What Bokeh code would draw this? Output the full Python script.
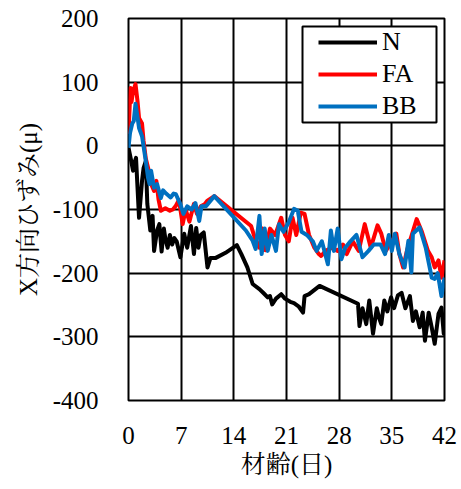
from bokeh.plotting import figure
from bokeh.models import Range1d, FixedTicker, Legend, LegendItem, BoxAnnotation
from bokeh.embed import file_html
from bokeh.resources import INLINE

# ---- data ----
x_ticks = [0, 7, 14, 21, 28, 35, 42]
y_ticks = [-400, -300, -200, -100, 0, 100, 200]
y_tick_labels = ["-400", "-300", "-200", "-100", "0", "100", "200"]

n_day = [0.0, 0.3, 0.6, 0.8, 1.0, 1.4, 1.8, 2.0, 2.3, 2.5, 2.9, 3.2, 3.4, 3.8, 4.1, 4.4, 4.7, 4.9,
         5.2, 5.5, 5.8, 6.1, 6.4, 6.9, 7.4, 7.8, 8.3, 8.7, 9.0, 9.3, 9.6, 10.0, 10.5, 10.9, 11.6,
         12.9, 14.4, 15.0, 15.8, 16.5, 17.4, 18.0, 18.5, 18.8, 19.1, 19.6, 20.3, 20.8, 21.5, 22.0,
         22.6, 23.2, 23.4, 24.0, 25.4, 30.5, 30.7, 31.1, 31.6, 32.0, 32.5, 33.0, 33.3, 33.6, 34.0,
         34.4, 34.9, 35.3, 35.8, 36.3, 36.8, 37.4, 37.8, 38.2, 38.7, 39.1, 39.4, 39.9, 40.3, 40.7,
         41.2, 41.6, 41.9, 42.0]
n_val = [-3, -20, -39, -26, -19, -113, -55, -35, -24, -91, -133, -110, -165, -133, -123, -166, -130, -146,
         -160, -140, -155, -145, -150, -175, -138, -160, -126, -170, -129, -160, -140, -136, -191, -176, -176,
         -168, -156, -170, -191, -217, -225, -232, -238, -236, -249, -240, -233, -240, -245, -247,
         -252, -262, -236, -233, -220, -248, -283, -255, -280, -243, -295, -255, -270, -280, -243,
         -260, -238, -255, -235, -231, -255, -236, -275, -260, -285, -262, -306, -262, -285, -311,
         -264, -254, -295, -280]

fa_day = [0.0, 0.15, 0.27, 0.4, 0.6, 0.93, 1.2, 1.4, 1.8, 2.0, 2.3, 2.7, 3.0, 3.4, 3.7, 4.0, 4.3, 4.9,
          5.5, 5.9, 6.3, 6.7, 7.2, 7.6, 8.1, 8.7, 9.1, 9.6, 10.1, 10.5, 11.4, 16.3, 16.9, 17.4, 17.8,
          18.2, 18.8, 19.5, 20.3, 20.8, 21.3, 21.8, 22.3, 22.9, 23.4, 24.0, 24.7, 25.3, 25.6, 26.2,
          27.0, 27.8, 28.5, 29.0, 29.8, 30.6, 31.4, 32.2, 33.1, 33.6, 34.2, 35.0, 35.6, 36.0, 36.5,
          37.0, 38.3, 39.0, 39.8, 40.3, 40.7, 41.2, 41.6, 42.0]
fa_val = [19, 60, 91, 69, 85, 97, 70, 44, 35, 8, -20, -39, -60, -71, -55, -85, -102, -98,
          -102, -100, -94, -85, -123, -100, -119, -91, -107, -95, -92, -86, -79, -126, -149, -160, -130,
          -164, -130, -140, -113, -140, -150, -113, -140, -105, -107, -140, -160, -170, -173, -165,
          -160, -165, -155, -170, -150, -165, -123, -160, -125, -138, -165, -150, -138, -170, -191,
          -165, -115, -135, -165, -175, -191, -180, -207, -180]

bb_day = [0.0, 0.2, 0.5, 0.7, 0.93, 1.2, 1.4, 1.8, 2.3, 2.6, 2.8, 3.0, 3.4, 3.8, 4.3, 4.6, 5.0, 5.6,
          6.0, 6.3, 6.9, 7.3, 7.8, 8.4, 8.9, 9.4, 9.7, 10.3, 11.4, 15.6, 16.5, 16.9, 17.4, 17.7,
          18.1, 18.5, 19.0, 19.6, 20.0, 20.6, 21.3, 22.0, 22.5, 23.0, 23.7, 24.5, 25.0, 25.7, 26.5,
          26.9, 27.3, 27.8, 28.3, 28.8, 29.5, 30.3, 31.1, 31.9, 32.6, 33.5, 34.1, 34.6, 35.0, 35.4,
          36.0, 36.7, 37.2, 37.6, 37.8, 38.7, 39.5, 40.3, 40.7, 41.1, 41.6, 42.0]
bb_val = [-3, 20, 35, 39, 66, 45, 28, 15, -24, -50, -60, -39, -66, -60, -82, -70, -75, -81,
          -75, -76, -92, -107, -95, -100, -90, -118, -95, -95, -79, -133, -149, -162, -110, -170,
          -130, -165, -140, -165, -123, -135, -120, -99, -102, -135, -140, -150, -165, -150, -186,
          -133, -165, -130, -178, -160, -150, -140, -175, -165, -155, -155, -170, -140, -165, -138,
          -170, -191, -149, -199, -138, -128, -160, -207, -209, -200, -236, -207]

series_names = ["N", "FA", "BB"]
series_colors = ["#000000", "#FF0000", "#0070C0"]

x_label = "材齢(日)"
y_label = "X方向ひずみ(μ)"

FONT = "Times New Roman, Tinos, Liberation Serif, Nimbus Roman, FreeSerif, DejaVu Serif"
FONT_CJK = "Times New Roman, Tinos, Liberation Serif, Noto Serif CJK JP, Noto Sans CJK JP"

p = figure(width=461, height=489, x_range=Range1d(0, 42), y_range=Range1d(-400, 200),
           output_backend="svg", toolbar_location=None,
           min_border_left=128, min_border_right=17, min_border_top=18, min_border_bottom=89)
p.background_fill_color = "white"
p.border_fill_color = "white"
p.outline_line_color = "black"
p.outline_line_width = 2

p.xaxis.major_tick_line_color = None
p.yaxis.major_tick_line_color = None
p.xaxis.minor_tick_line_color = None
p.yaxis.minor_tick_line_color = None
p.xaxis.axis_line_color = None
p.yaxis.axis_line_color = None
p.xaxis.major_label_text_font = FONT
p.yaxis.major_label_text_font = FONT
p.xaxis.major_label_text_font_size = "25px"
p.yaxis.major_label_text_font_size = "25px"
p.xaxis.major_label_text_color = "black"
p.yaxis.major_label_text_color = "black"
p.xaxis.axis_label_text_font = FONT_CJK
p.yaxis.axis_label_text_font = FONT_CJK
p.xaxis.axis_label_text_font_size = "25px"
p.yaxis.axis_label_text_font_size = "25px"
p.xaxis.axis_label_text_font_style = "normal"
p.yaxis.axis_label_text_font_style = "normal"
p.xaxis.axis_label_text_color = "black"
p.yaxis.axis_label_text_color = "black"

p.xaxis.ticker = FixedTicker(ticks=x_ticks)
p.yaxis.ticker = FixedTicker(ticks=y_ticks)
p.yaxis.major_label_overrides = {t: s for t, s in zip(y_ticks, y_tick_labels)}
p.xaxis.axis_label = x_label
p.yaxis.axis_label = y_label
p.xaxis.major_label_standoff = 20
p.yaxis.major_label_standoff = 24
p.xaxis.axis_label_standoff = 4
p.yaxis.axis_label_standoff = 8

p.xgrid.grid_line_color = "black"
p.ygrid.grid_line_color = "black"
p.xgrid.grid_line_width = 2
p.ygrid.grid_line_width = 2

r_n = p.line(n_day, n_val, line_color=series_colors[0], line_width=4, line_join="round")
r_fa = p.line(fa_day, fa_val, line_color=series_colors[1], line_width=4, line_join="round")
r_bb = p.line(bb_day, bb_val, line_color=series_colors[2], line_width=4, line_join="round")

# legend frame (screen units, measured from the frame's bottom-left)
box = BoxAnnotation(left=174, right=308, bottom=278, top=374,
                    left_units="screen", right_units="screen",
                    bottom_units="screen", top_units="screen",
                    fill_color="white", fill_alpha=1.0,
                    line_color="black", line_width=2, line_alpha=1.0)
p.add_layout(box)

legend = Legend(items=[LegendItem(label=series_names[0], renderers=[r_n]),
                       LegendItem(label=series_names[1], renderers=[r_fa]),
                       LegendItem(label=series_names[2], renderers=[r_bb])],
                location=(190, 279))
legend.label_text_font = FONT
legend.label_text_font_size = "26px"
legend.label_text_color = "black"
legend.border_line_alpha = 0
legend.background_fill_alpha = 0
legend.padding = 0
legend.margin = 0
legend.spacing = 2
legend.glyph_width = 59
legend.glyph_height = 26
legend.label_height = 26
legend.label_standoff = 5
p.add_layout(legend, "center")

open("out.html", "w").write(file_html(p, INLINE))
